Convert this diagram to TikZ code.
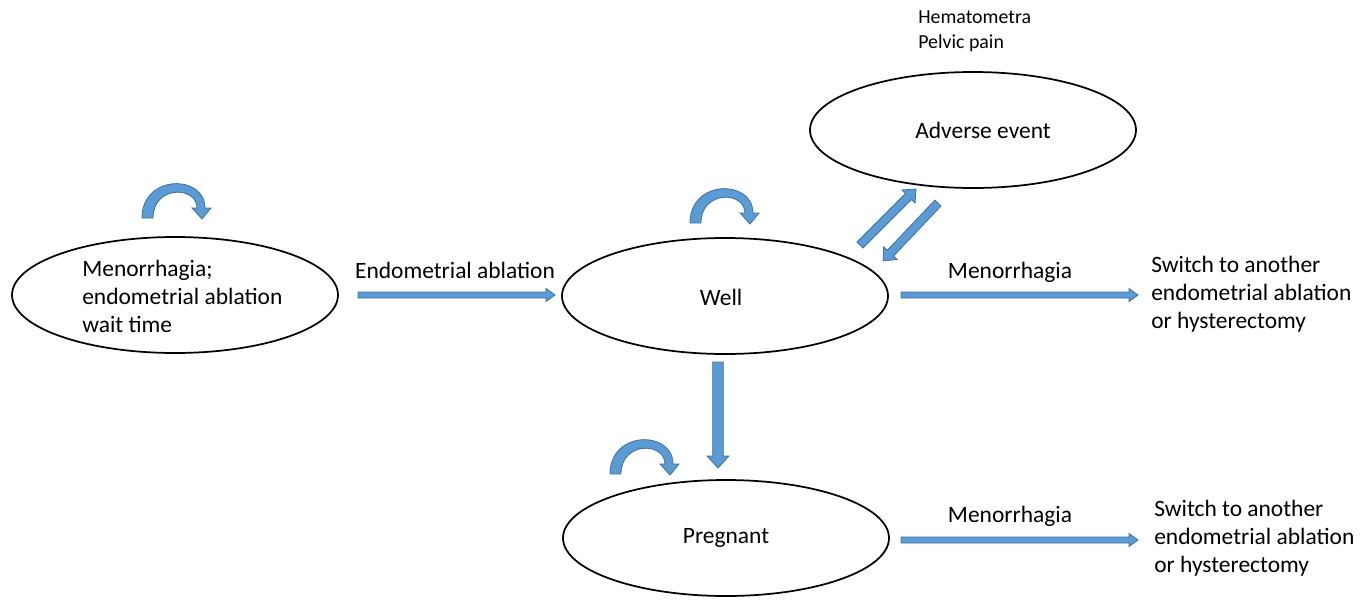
\documentclass[tikz,border=0pt]{standalone}
\usepackage{fontspec}
\setmainfont{Carlito}
\usetikzlibrary{calc,shapes.geometric}
\definecolor{arrblue}{RGB}{91,155,213}
\definecolor{arrline}{RGB}{65,113,156}
\tikzset{
  state/.style={draw=black, line width=1.3pt, ellipse, minimum width=244.5pt, minimum height=87pt, inner sep=0pt},
  lbl/.style={inner sep=0pt, font=\fontsize{17.6}{21}\selectfont},
  lblleft/.style={lbl, anchor=west, align=left},
  small/.style={inner sep=0pt, anchor=west, align=left, font=\fontsize{14.9}{18.7}\selectfont},
  barr/.style={fill=arrblue, draw=arrline, line width=0.6pt, line join=miter},
  looparrow/.pic={\filldraw[barr] (-30,0) .. controls (-30,-44) and (33,-44) .. (33,-10) -- (39,-10) -- (30,1) -- (20,-10) -- (25,-10) .. controls (25,-32) and (-19,-33) .. (-19,0) -- cycle;}
}
% #1,#2 coordinate names; #3 shaft half width, #4 head half width, #5 head length (pt)
\newcommand\barrow[5]{%
  \pgfpointdiff{\pgfpointanchor{#1}{center}}{\pgfpointanchor{#2}{center}}%
  \pgfgetlastxy{\bx}{\by}%
  \pgfmathsetmacro\bang{atan2(\by,\bx)}%
  \pgfmathsetmacro\blen{veclen(\bx,\by)}%
  \pgfmathsetmacro\bneck{\blen-#5}%
  \begin{scope}[shift={(#1)}, rotate=\bang]
    \filldraw[barr] (0pt,-#3pt) -- (\bneck pt,-#3pt) -- (\bneck pt,-#4pt) -- (\blen pt,0pt) -- (\bneck pt,#4pt) -- (\bneck pt,#3pt) -- (0pt,#3pt) -- cycle;
  \end{scope}}
\begin{document}
\begin{tikzpicture}[x=0.75pt, y=-0.75pt]
\useasboundingbox (0,0) rectangle (1360,600);
% states
\node[state] (menor) at (175,295) {};
\node[state] (well) at (725,296) {};
\node[state] (adverse) at (973,130) {};
\node[state] (preg) at (726,538) {};
% labels
\node[lblleft] (menortxt) at (82,296) {Menorrhagia;\\endometrial ablation\\wait time};
\node[lbl] (welltxt) at (721,297) {Well};
\node[lbl] (advtxt) at (983,130) {Adverse event};
\node[lbl] (pregtxt) at (726,538) {Pregnant};
\node[small] (advlist) at (918,31) {Hematometra\\Pelvic pain};
\node[lbl] (ablbl) at (455,270) {Endometrial ablation};
\node[lbl] (m1) at (1010,272) {Menorrhagia};
\node[lbl] (m2) at (1010,516) {Menorrhagia};
\node[lblleft] (sw1) at (1151,294) {Switch to another\\endometrial ablation\\or hysterectomy};
\node[lblleft] (sw2) at (1154,538) {Switch to another\\endometrial ablation\\or hysterectomy};
% arrow end points
\coordinate (a1s) at (358,295); \coordinate (a1e) at (555,295);
\coordinate (a2s) at (901,295); \coordinate (a2e) at (1138,295);
\coordinate (a3s) at (901,540); \coordinate (a3e) at (1138,540);
\coordinate (a4s) at (718,362); \coordinate (a4e) at (718,468);
\coordinate (a5s) at (860,245); \coordinate (a5e) at (916,189);
\coordinate (a6s) at (938,203); \coordinate (a6e) at (883,261);
\barrow{a1s}{a1e}{2.25}{4.9}{6.75}
\barrow{a2s}{a2e}{2.25}{4.9}{6.75}
\barrow{a3s}{a3e}{2.25}{4.9}{6.75}
\barrow{a4s}{a4e}{4}{8.2}{9}
\barrow{a5s}{a5e}{3.2}{7}{8}
\barrow{a6s}{a6e}{3.2}{7}{8}
% self loops
\pic at (172,218) {looparrow};
\pic at (720,223) {looparrow};
\pic at (640,474) {looparrow};
\end{tikzpicture}
\end{document}
